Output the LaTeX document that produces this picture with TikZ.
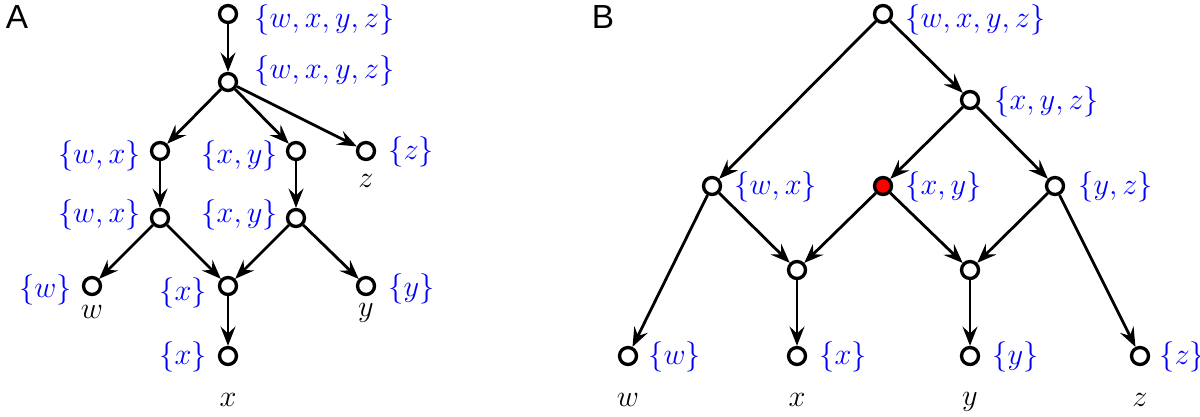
\documentclass[tikz,border=0pt]{standalone}
\usepackage{fontspec}
\setsansfont{Liberation Sans}
\usetikzlibrary{arrows.meta}

\tikzset{
  vtx/.style={circle,draw,line width=1.9pt,minimum size=0.34cm,inner sep=0pt,fill=white},
  hot/.style={vtx,fill=red},
  set/.style={text=blue,inner sep=0pt,font=\fontsize{17.28}{20}\selectfont},
  leaf/.style={inner sep=0pt,font=\fontsize{17.28}{20}\selectfont},
  panel/.style={inner sep=0pt,font=\sffamily\fontsize{19}{21}\selectfont},
  edge/.style={line width=1.6pt,-{Stealth[length=11pt,width=8.5pt,inset=4pt]}}
}

\begin{document}
\begin{tikzpicture}[x=0.02cm,y=-0.02cm]
  \useasboundingbox (0,0) rectangle (1200,416);

  % panel A
  \node[panel] (labA) at (17,17) {A};
  \node[vtx] (a1) at (228,14) {};
  \node[vtx] (a2) at (228,82) {};
  \node[vtx] (a3) at (160,151) {};
  \node[vtx] (a4) at (296,151) {};
  \node[vtx] (a5) at (366,151) {};
  \node[vtx] (a6) at (160,218) {};
  \node[vtx] (a7) at (296,218) {};
  \node[vtx] (a8) at (92,286) {};
  \node[vtx] (a9) at (228,286) {};
  \node[vtx] (a10) at (366,286) {};
  \node[vtx] (a11) at (228,356) {};

  \node[set,anchor=west] (s1) at (254,20) {$\{w, x, y, z\}$};
  \node[set,anchor=west] (s2) at (254,71) {$\{w, x, y, z\}$};
  \node[set,anchor=east] (s3) at (141,156) {$\{w, x\}$};
  \node[set,anchor=east] (s4) at (278,156) {$\{x, y\}$};
  \node[set,anchor=west] (s5) at (388,152) {$\{z\}$};
  \node[set,anchor=east] (s6) at (141,215) {$\{w, x\}$};
  \node[set,anchor=east] (s7) at (278,215) {$\{x, y\}$};
  \node[set,anchor=east] (s8) at (72,290) {$\{w\}$};
  \node[set,anchor=east] (s9) at (207,293) {$\{x\}$};
  \node[set,anchor=west] (s10) at (388,289) {$\{y\}$};
  \node[set,anchor=east] (s11) at (207,357) {$\{x\}$};

  \node[leaf] (lz) at (366,181) {$z$};
  \node[leaf] (lw) at (92,312) {$w$};
  \node[leaf] (ly) at (366,313) {$y$};
  \node[leaf] (lx) at (228,400) {$x$};

  \foreach \s/\t in {a1/a2,a2/a3,a2/a4,a2/a5,a3/a6,a4/a7,a6/a8,a6/a9,a7/a9,a7/a10,a9/a11}
    \draw[edge] (\s) -- (\t);

  % panel B
  \node[panel] (labB) at (603,17) {B};
  \node[vtx] (b1) at (883,14) {};
  \node[vtx] (b2) at (970,100) {};
  \node[vtx] (b3) at (712,186) {};
  \node[hot] (b4) at (883,186) {};
  \node[vtx] (b5) at (1055,186) {};
  \node[vtx] (b6) at (797,270) {};
  \node[vtx] (b7) at (970,270) {};
  \node[vtx] (b8) at (628,356) {};
  \node[vtx] (b9) at (797,356) {};
  \node[vtx] (b10) at (970,356) {};
  \node[vtx] (b11) at (1140,356) {};

  \node[set,anchor=west] (t1) at (905,20) {$\{w, x, y, z\}$};
  \node[set,anchor=west] (t2) at (994,102) {$\{x, y, z\}$};
  \node[set,anchor=west] (t3) at (734,187) {$\{w, x\}$};
  \node[set,anchor=west] (t4) at (905,187) {$\{x, y\}$};
  \node[set,anchor=west] (t5) at (1078,187) {$\{y, z\}$};
  \node[set,anchor=west] (t8) at (648,357) {$\{w\}$};
  \node[set,anchor=west] (t9) at (819,357) {$\{x\}$};
  \node[set,anchor=west] (t10) at (992,357) {$\{y\}$};
  \node[set,anchor=west] (t11) at (1159,357) {$\{z\}$};

  \node[leaf] (mw) at (628,400) {$w$};
  \node[leaf] (mx) at (797,400) {$x$};
  \node[leaf] (my) at (970,402) {$y$};
  \node[leaf] (mz) at (1140,400) {$z$};

  \foreach \s/\t in {b1/b3,b1/b2,b2/b4,b2/b5,b3/b8,b3/b6,b4/b6,b4/b7,b5/b7,b5/b11,b6/b9,b7/b10}
    \draw[edge] (\s) -- (\t);
\end{tikzpicture}
\end{document}
